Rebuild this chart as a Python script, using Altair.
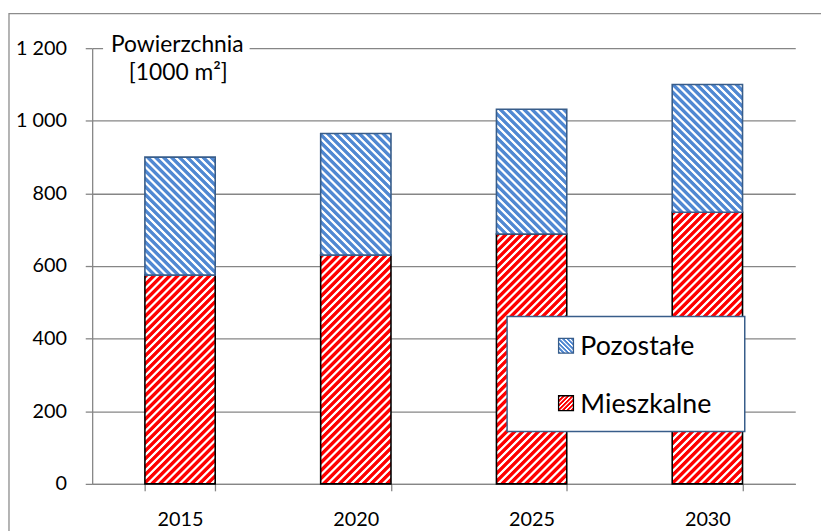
import altair as alt
import pandas as pd

# ---- data ----
years = ["2015", "2020", "2025", "2030"]
mieszkalne = [575, 630, 688, 748]
pozostale = [325, 335, 344, 352]
series = ["Pozostałe", "Mieszkalne"]
y_ticks = [0, 200, 400, 600, 800, 1000, 1200]
y_title_lines = ["Powierzchnia", "[1000 m²]"]

# ---- layout / style ----
W, H = 710, 440
YMAX = 1200
PAD_INNER = 0.6
BAND = W / len(years) * (1 - PAD_INNER)
PX = H / YMAX
RED = "#FF0000"
BLUE = "#5088D2"
BLUE_EDGE = "#385D8A"
GRID = "#868686"
FONT = "Lato"
FS = 20


def stripes(color, w, h, period, direction, bg="#FFFFFF"):
    n = (w + h) / period
    c = (w + h) / (w * w + h * h)
    a, b = c * w, c * h
    if direction == "/":
        x1, y1, x2, y2 = 0, 0, a, b
    else:
        x1, y1, x2, y2 = 0, 1, a, 1 - b
    stops = []
    k = 0
    while k / n <= 1:
        for frac, col in ((0.0, color), (0.45, color), (0.6, bg), (0.85, bg)):
            off = (k + frac) / n
            if off <= 1:
                stops.append({"offset": round(off, 5), "color": col})
        k += 1
    return {"gradient": "linear", "x1": x1, "y1": y1, "x2": x2, "y2": y2, "stops": stops}


x_enc = alt.X(
    "year:N",
    scale=alt.Scale(domain=years, paddingInner=PAD_INNER, paddingOuter=PAD_INNER / 2),
    axis=alt.Axis(
        title=None, labelAngle=0, tickBand="extent", grid=False,
        domainColor=GRID, domainWidth=1.3, tickColor=GRID, tickWidth=1.3, tickSize=7,
        labelPadding=19, labelFont=FONT, labelFontSize=FS, labelColor="black",
    ),
)
y_enc = alt.Y(
    "y0:Q",
    scale=alt.Scale(domain=[0, YMAX], nice=False),
    axis=alt.Axis(
        title=None, values=y_ticks, grid=True, gridColor=GRID, gridWidth=1.3,
        domainColor=GRID, domainWidth=1.3, tickColor=GRID, tickWidth=1.3, tickSize=7,
        labelPadding=19, labelFont=FONT, labelFontSize=FS, labelColor="black",
        labelExpr="replace(format(datum.value, ','), ',', ' ')",
    ),
)

one = pd.DataFrame({"a": [0]})

layers = []
# outer frame
layers.append(
    alt.Chart(one).mark_rect(filled=False, color="#8C8C8C", strokeWidth=1.3).encode(
        x=alt.value(-84), x2=alt.value(W + 200), y=alt.value(-35), y2=alt.value(H + 200)
    )
)

# bars: red (Mieszkalne) then blue (Pozostałe)
for i, yr in enumerate(years):
    lo, hi = 0, mieszkalne[i]
    df = pd.DataFrame({"year": [yr], "y0": [lo], "y1": [hi]})
    layers.append(
        alt.Chart(df).mark_bar(
            fill=stripes(RED, BAND, (hi - lo) * PX, 8, "/"),
            stroke="black", strokeWidth=1.6,
        ).encode(x=x_enc, y=y_enc, y2="y1:Q")
    )
for i, yr in enumerate(years):
    lo, hi = mieszkalne[i], mieszkalne[i] + pozostale[i]
    df = pd.DataFrame({"year": [yr], "y0": [lo], "y1": [hi]})
    layers.append(
        alt.Chart(df).mark_bar(
            fill=stripes(BLUE, BAND, (hi - lo) * PX, 8, "\\"),
            stroke=BLUE_EDGE, strokeWidth=1.6,
        ).encode(x=x_enc, y=y_enc, y2="y1:Q")
    )

# axis title with white background over the top gridline
layers.append(
    alt.Chart(one).mark_rect(color="white").encode(
        x=alt.value(11), x2=alt.value(159), y=alt.value(-12), y2=alt.value(10)
    )
)
layers.append(
    alt.Chart(one).mark_text(align="left", baseline="alphabetic", font=FONT, fontSize=23, color="black").encode(
        x=alt.value(19), y=alt.value(4), text=alt.value(y_title_lines[0])
    )
)
layers.append(
    alt.Chart(one).mark_text(align="left", baseline="alphabetic", font=FONT, fontSize=23, color="black").encode(
        x=alt.value(37), y=alt.value(32), text=alt.value(y_title_lines[1])
    )
)

# legend box
layers.append(
    alt.Chart(one).mark_rect(color="white", stroke=BLUE_EDGE, strokeWidth=1.5).encode(
        x=alt.value(419), x2=alt.value(659), y=alt.value(271), y2=alt.value(387)
    )
)
leg_cols = [(BLUE, BLUE_EDGE, "\\"), (RED, "black", "/")]
leg_y = [293, 351]
for k, name in enumerate(series):
    col, edge, d = leg_cols[k]
    layers.append(
        alt.Chart(one).mark_rect(fill=stripes(col, 15, 15, 4.5, d), stroke=edge, strokeWidth=1.3).encode(
            x=alt.value(471), x2=alt.value(486), y=alt.value(leg_y[k]), y2=alt.value(leg_y[k] + 15)
        )
    )
    layers.append(
        alt.Chart(one).mark_text(align="left", baseline="alphabetic", font=FONT, fontSize=27, color="black").encode(
            x=alt.value(493), y=alt.value(leg_y[k] + 17), text=alt.value(name)
        )
    )

chart = alt.layer(*layers).properties(
    width=W, height=H,
    padding={"left": 85, "top": 38, "right": 26, "bottom": 45},
    autosize=alt.AutoSizeParams(type="none"),
).configure_view(stroke=None)

chart.save("out.html", embed_options={"renderer": "svg", "actions": False})
